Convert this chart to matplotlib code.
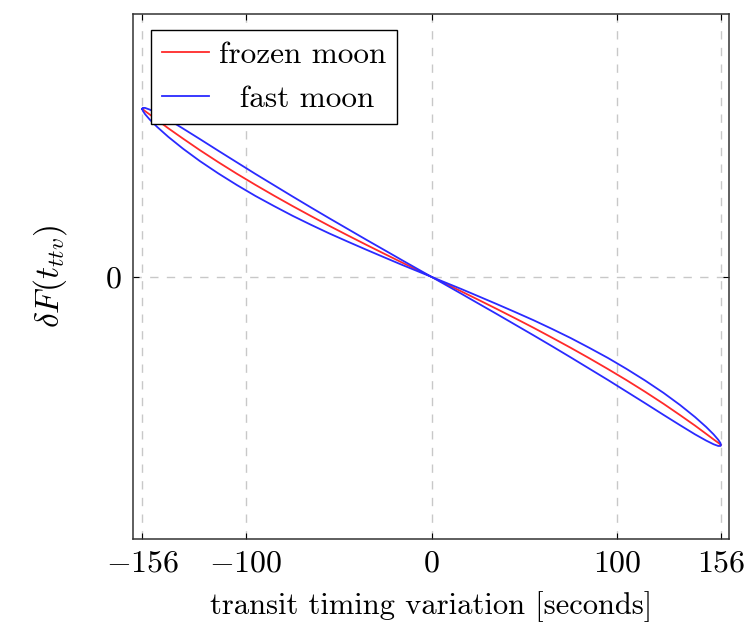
import matplotlib
matplotlib.use("Agg")
import matplotlib.pyplot as plt

plt.rcParams['font.family'] = 'serif'
plt.rcParams['font.serif'] = ['cmr10']
plt.rcParams['mathtext.fontset'] = 'cm'
plt.rcParams['axes.unicode_minus'] = False

# transit timing variation [s] (shared x for both curves)
ttv = [-156, -155.7, -154.5, -152, -148, -142, -134, -125, -115, -105, -95,
       -85, -75, -65, -55, -45, -35, -25, -16, -8, 0,
       8, 16, 25, 35, 45, 55, 65, 75, 85, 95,
       105, 115, 125, 134, 142, 148, 152, 154.5, 155.7, 156]

# frozen moon, dF (arbitrary units)
frozen = [1.0, 0.998, 0.987, 0.967, 0.934, 0.885, 0.823, 0.755, 0.683, 0.614, 0.548,
          0.484, 0.422, 0.362, 0.303, 0.246, 0.190, 0.135, 0.086, 0.043, 0.0,
          -0.043, -0.086, -0.135, -0.190, -0.246, -0.303, -0.362, -0.422, -0.484, -0.548,
          -0.614, -0.683, -0.755, -0.823, -0.885, -0.934, -0.967, -0.987, -0.998, -1.0]

# fast moon, the two branches of the loop
fast_upper = [1.0, 1.006, 1.006, 0.996, 0.974, 0.937, 0.883, 0.821, 0.751, 0.682, 0.613,
              0.546, 0.479, 0.413, 0.348, 0.284, 0.220, 0.157, 0.100, 0.050, 0.0,
              -0.036, -0.072, -0.114, -0.161, -0.209, -0.258, -0.310, -0.364, -0.422, -0.482,
              -0.547, -0.616, -0.690, -0.763, -0.834, -0.893, -0.937, -0.969, -0.989, -1.0]
fast_lower = [1.0, 0.989, 0.969, 0.937, 0.893, 0.834, 0.763, 0.690, 0.616, 0.547, 0.482,
              0.422, 0.364, 0.310, 0.258, 0.209, 0.161, 0.114, 0.072, 0.036, 0.0,
              -0.050, -0.100, -0.157, -0.220, -0.284, -0.348, -0.413, -0.479, -0.546, -0.613,
              -0.682, -0.751, -0.821, -0.883, -0.937, -0.974, -0.996, -1.006, -1.006, -1.0]

xticks = [-156, -100, 0, 100, 156]
yticks = [0]

fig = plt.figure(figsize=(7.45, 6.3), dpi=100)
ax = fig.add_axes([0.1785, 0.1444, 0.8, 0.8334])

# closed loop: along upper branch, back along lower branch
loop_x = ttv + ttv[::-1]
loop_y = fast_upper + fast_lower[::-1]

ax.plot(ttv, frozen, color='#ff2a2a', lw=1.3, label='frozen moon', zorder=3)
ax.plot(loop_x, loop_y, color='#2a2aff', lw=1.3, label='  fast moon', zorder=3)

ax.set_xlim(-161, 160.3)
ax.set_ylim(-1.56, 1.565)
ax.set_xticks(xticks)
ax.set_xticklabels(['$%d$' % v if v >= 0 else '$-%d$' % -v for v in xticks])
ax.set_yticks(yticks)
ax.set_yticklabels(['$0$'])
ax.tick_params(direction='in', top=True, right=True, length=4, width=0.8,
               labelsize=23, pad=8)

ax.grid(True, color='#c8c8c8', linestyle=(0, (6, 6)), lw=1.0)
for s in ax.spines.values():
    s.set_color('#333333')
    s.set_linewidth(1.1)

ax.set_xlabel('transit timing variation [seconds]', fontsize=22, labelpad=10)
ax.set_ylabel(r'$\delta F(t_{ttv})$', fontsize=24, labelpad=26)

leg = ax.legend(loc='upper left', bbox_to_anchor=(0.031, 0.969), fontsize=22.5,
                fancybox=False, edgecolor='black', framealpha=1,
                handlelength=1.5, handletextpad=0.3, borderpad=0.35,
                labelspacing=0.5, borderaxespad=0)
leg.get_frame().set_linewidth(1.0)

fig.savefig('out.png', dpi=100)
